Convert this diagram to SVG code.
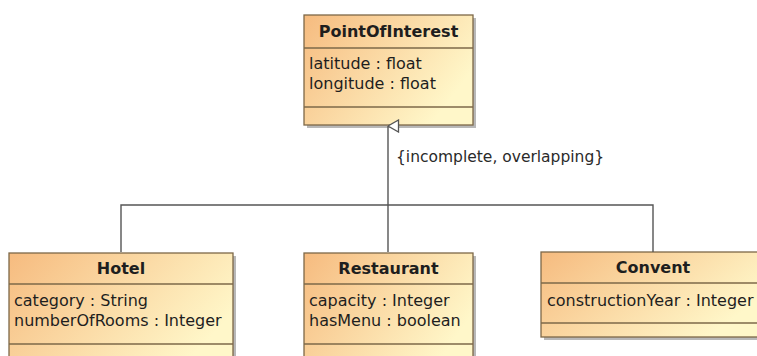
<svg xmlns="http://www.w3.org/2000/svg" width="757" height="356" viewBox="0 0 757 356">
  <style>
    text { font-family: "DejaVu Sans", "Liberation Sans", sans-serif; font-size: 16px; fill: #1e1e1e; }
    .title { font-weight: bold; text-anchor: middle; }
    .label { font-size: 15.5px; fill: #2a2a2a; }
    .box { fill: url(#classFill); stroke: #7d6848; stroke-width: 1.3; }
    .shadow { fill: #9a9a9a; opacity: 0.7; }
    .sep { stroke: #7d6848; stroke-width: 1.3; }
    .conn { fill: none; stroke: #555; stroke-width: 1.4; }
  </style>
  <defs>
    <linearGradient id="classFill" x1="0" y1="0" x2="1" y2="0.5">
      <stop offset="0" stop-color="#f6bb7f"/>
      <stop offset="1" stop-color="#fff7c9"/>
    </linearGradient>
    <marker id="genTri" viewBox="0 0 14 12" refX="7" refY="0.5" markerWidth="14" markerHeight="12" markerUnits="userSpaceOnUse" orient="auto-start-reverse">
      <path d="M7,0.5 L13,11 L1,11 Z" fill="#fff" stroke="#555" stroke-width="1.3"/>
    </marker>
  </defs>

  <g id="PointOfInterest">
    <rect class="shadow" x="307" y="18" width="169" height="110"/>
    <rect class="box" x="304" y="15" width="169" height="110"/>
    <line class="sep" x1="304" y1="48" x2="473" y2="48"/>
    <line class="sep" x1="304" y1="107" x2="473" y2="107"/>
    <text class="title" x="388.5" y="37">PointOfInterest</text>
    <text x="309" y="69">latitude : float</text>
    <text x="309" y="89">longitude : float</text>
  </g>

  <g id="Hotel">
    <rect class="shadow" x="12" y="256" width="224" height="120"/>
    <rect class="box" x="9" y="253" width="224" height="120"/>
    <line class="sep" x1="9" y1="284" x2="233" y2="284"/>
    <line class="sep" x1="9" y1="344" x2="233" y2="344"/>
    <text class="title" x="121" y="274">Hotel</text>
    <text x="14" y="306">category : String</text>
    <text x="14" y="326">numberOfRooms : Integer</text>
  </g>

  <g id="Restaurant">
    <rect class="shadow" x="307" y="256" width="169" height="120"/>
    <rect class="box" x="304" y="253" width="169" height="120"/>
    <line class="sep" x1="304" y1="284" x2="473" y2="284"/>
    <line class="sep" x1="304" y1="344" x2="473" y2="344"/>
    <text class="title" x="388.5" y="274">Restaurant</text>
    <text x="309" y="306">capacity : Integer</text>
    <text x="309" y="326">hasMenu : boolean</text>
  </g>

  <g id="Convent">
    <rect class="shadow" x="544" y="255" width="224" height="85"/>
    <rect class="box" x="541" y="252" width="224" height="85"/>
    <line class="sep" x1="541" y1="283" x2="765" y2="283"/>
    <line class="sep" x1="541" y1="323" x2="765" y2="323"/>
    <text class="title" x="653" y="273">Convent</text>
    <text x="547" y="306">constructionYear : Integer</text>
  </g>

  <g id="connectors">
    <path class="conn" d="M388,205 L388,126" marker-end="url(#genTri)"/>
    <path class="conn" d="M121,252 L121,205 L653,205 L653,252"/>
    <path class="conn" d="M388,252 L388,205"/>
    <text class="label" x="396" y="162">{incomplete, overlapping}</text>
  </g>
</svg>
